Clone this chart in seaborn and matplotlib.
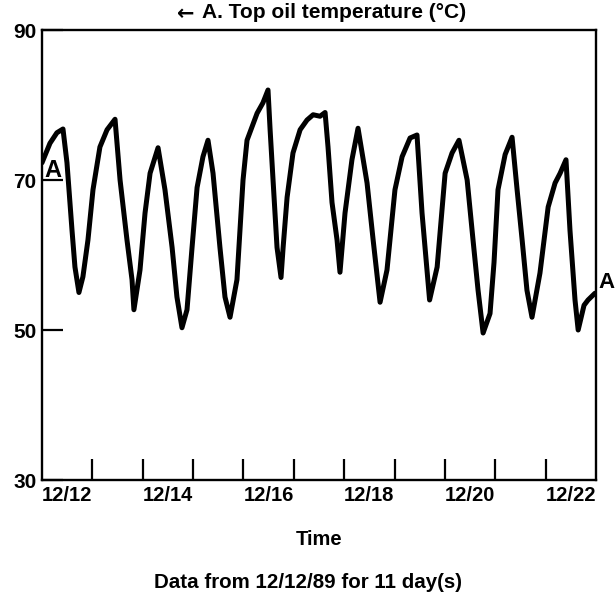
import matplotlib
matplotlib.use("Agg")
import matplotlib.pyplot as plt
import seaborn as sns
import pandas as pd

# Data: hours since 12/12/89 00:00, top oil temperature (°C)
hours = [0, 3.8, 7.1, 10.0, 11.9, 14.3, 15.7, 17.6, 19.5, 21.9, 24.3, 27.6, 31.0, 34.8,
         37.2, 40.5, 42.9, 43.8, 46.7, 49.1, 51.5, 55.3, 58.6, 62.0, 64.3, 66.7, 69.1,
         71.5, 73.9, 76.7, 79.1, 81.5, 84.8, 87.2, 89.6, 92.9, 95.8, 97.7, 102.5, 105.3,
         107.7, 108.7, 110.1, 112.0, 113.9, 114.9, 116.8, 119.6, 123.0, 126.3, 129.2,
         132.5, 134.9, 136.3, 138.2, 140.6, 142.0, 144.4, 147.7, 150.6, 154.9, 157.8,
         161.1, 164.4, 168.2, 171.6, 175.4, 178.7, 181.1, 184.7, 188.3, 192.1, 195.4,
         198.7, 202.6, 205.4, 207.8, 210.2, 213.5, 215.4, 217.3, 220.7, 224.0, 226.4,
         228.8, 231.1, 233.5, 237.3, 241.2, 244.5, 246.9, 249.7, 251.6, 254.0, 255.5,
         258.3, 260.2, 263.5]
temps = [72.3, 74.9, 76.3, 76.8, 72.3, 63.3, 58.4, 55.0, 57.1, 62.0, 68.7, 74.4, 76.7, 78.1,
         70.0, 62.0, 56.7, 52.7, 58.0, 65.6, 70.9, 74.3, 68.7, 61.0, 54.4, 50.3, 52.7,
         61.0, 69.0, 73.1, 75.3, 70.9, 61.0, 54.4, 51.7, 56.7, 70.0, 75.3, 78.9, 80.3,
         82.0, 76.7, 70.0, 61.0, 57.0, 61.0, 67.7, 73.6, 76.7, 78.0, 78.7,
         78.5, 79.0, 74.4, 67.0, 62.0, 57.7, 65.6, 72.7, 76.9, 69.6, 62.0,
         53.7, 58.0, 68.7, 73.1, 75.6, 76.0, 65.6, 54.0, 58.4, 70.9, 73.6,
         75.3, 70.0, 62.0, 55.3, 49.6, 52.2, 59.0, 68.7, 73.4, 75.7, 68.7,
         62.0, 55.3, 51.7, 57.6, 66.4, 69.6, 70.9, 72.7, 63.3, 54.0, 50.0,
         53.3, 54.0, 54.9]

y_ticks = [30, 50, 70, 90]
day_marks = [24, 48, 72, 96, 120, 144, 168, 192, 216, 240]
date_label_pos = [12, 60, 108, 156, 204, 252]
date_labels = ["12/12", "12/14", "12/16", "12/18", "12/20", "12/22"]

title_arrow = "\u2190"
title = "A. Top oil temperature (\u00b0C)"
xlabel = "Time"
footer = "Data from 12/12/89 for 11 day(s)"

sns.set_style("white")
plt.rcParams["font.family"] = ["Liberation Sans", "DejaVu Sans"]
plt.rcParams["font.weight"] = "bold"
plt.rcParams["text.color"] = "black"
plt.rcParams["axes.labelcolor"] = "black"
plt.rcParams["xtick.color"] = "black"
plt.rcParams["ytick.color"] = "black"

df = pd.DataFrame({"hours": hours, "temp": temps})

W, H = 615, 604
fig = plt.figure(figsize=(6.15, 6.04), dpi=100)
ax = fig.add_axes([42 / W, 1 - 480 / H, (596 - 42) / W, (480 - 30) / H])

sns.lineplot(data=df, x="hours", y="temp", ax=ax, color="black", linewidth=3.6,
             solid_joinstyle="round", solid_capstyle="round")

ax.set_xlim(0, 264)
ax.set_ylim(30, 90)

for s in ax.spines.values():
    s.set_color("black")
    s.set_linewidth(1.7)

ax.set_yticks(y_ticks)
ax.set_yticklabels([str(v) for v in y_ticks], fontsize=15, fontweight="bold")
ax.tick_params(axis="y", which="major", left=True, direction="in", length=15, width=1.6,
               pad=4, colors="black")

ax.set_xticks(day_marks)
ax.set_xticklabels([])
ax.tick_params(axis="x", which="major", bottom=True, direction="in", length=15, width=1.6,
               colors="black")
ax.set_xticks(date_label_pos, minor=True)
ax.set_xticklabels(date_labels, minor=True, fontsize=14.5, fontweight="bold")
ax.tick_params(axis="x", which="minor", bottom=True, length=0, pad=4, colors="black")

ax.set_xlabel(xlabel, fontsize=14.5, fontweight="bold", labelpad=18)
ax.set_ylabel("")

fig.text(186 / W, 1 - 14 / H, title_arrow, fontsize=15, fontweight="bold",
         family=["DejaVu Sans"], ha="center", va="center")
fig.text(334 / W, 1 - 13 / H, title, fontsize=15, fontweight="bold",
         ha="center", va="center")

ax.text(5.2, 69.7, "A", fontsize=17, fontweight="bold", ha="center", va="bottom",
        color="black")
ax.text(269, 56.3, "A", fontsize=16, fontweight="bold", ha="center", va="center",
        color="black", clip_on=False)

fig.text(0.5, 1 - 582 / H, footer, fontsize=14.8, fontweight="bold", ha="center",
         va="center")

fig.savefig("out.png", dpi=100, facecolor="white")
